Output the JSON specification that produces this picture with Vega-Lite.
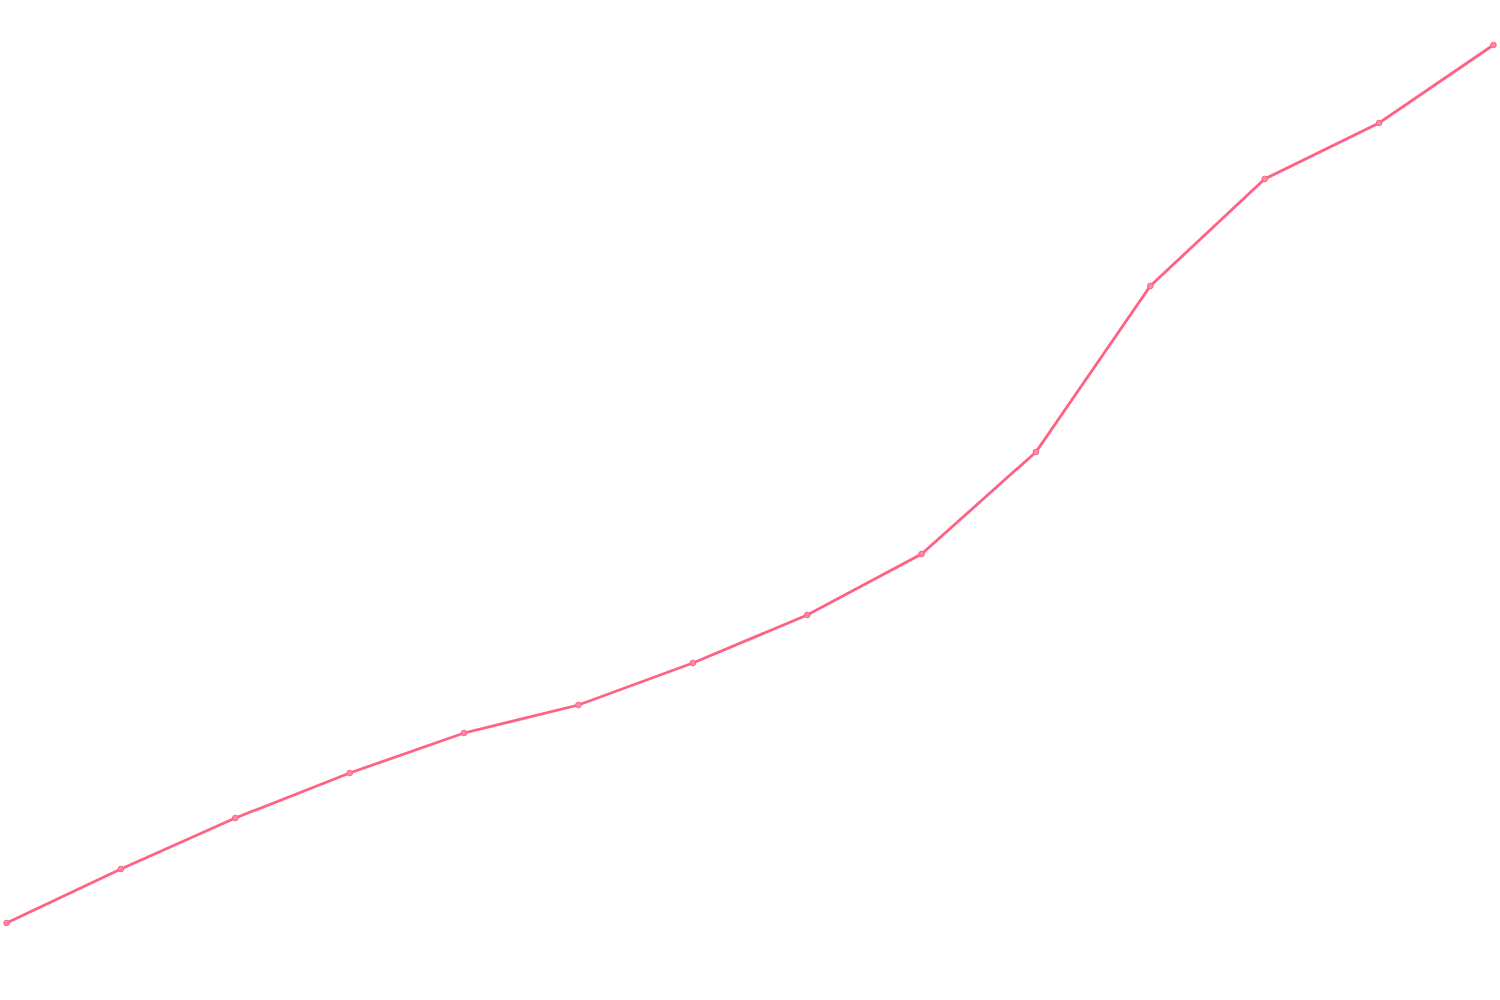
{
  "$schema": "https://vega.github.io/schema/vega-lite/v6.json",
  "width": 1500,
  "height": 1000,
  "autosize": {"type": "fit", "contains": "padding"},
  "padding": 0,
  "background": "white",
  "config": {"view": {"stroke": null}},
  "data": {
    "values": [
      {"step": 0, "value": 77},
      {"step": 1, "value": 131},
      {"step": 2, "value": 182},
      {"step": 3, "value": 227},
      {"step": 4, "value": 267},
      {"step": 5, "value": 295},
      {"step": 6, "value": 337},
      {"step": 7, "value": 385},
      {"step": 8, "value": 446},
      {"step": 9, "value": 548},
      {"step": 10, "value": 714},
      {"step": 11, "value": 821},
      {"step": 12, "value": 877},
      {"step": 13, "value": 955}
    ]
  },
  "encoding": {
    "x": {
      "field": "step",
      "type": "quantitative",
      "scale": {"domain": [-0.04, 13.04], "nice": false, "zero": false},
      "axis": null
    },
    "y": {
      "field": "value",
      "type": "quantitative",
      "scale": {"domain": [0, 1000], "nice": false},
      "axis": null
    }
  },
  "layer": [
    {
      "mark": {"type": "line", "color": "#ff6384", "strokeWidth": 2.8}
    },
    {
      "mark": {
        "type": "point",
        "shape": "circle",
        "size": 32,
        "filled": true,
        "fill": "#ff8aa5",
        "stroke": "#ff6384",
        "strokeWidth": 1,
        "opacity": 1
      }
    }
  ]
}
